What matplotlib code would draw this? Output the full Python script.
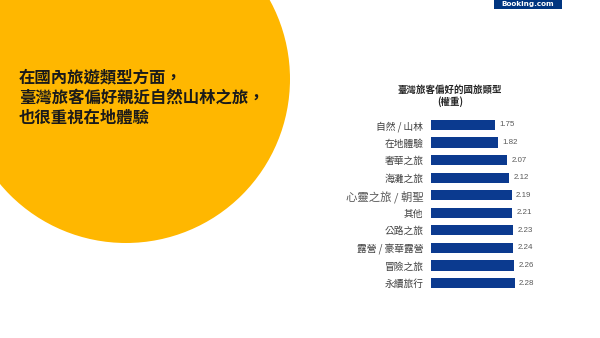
import matplotlib
matplotlib.use("Agg")
import matplotlib.pyplot as plt
from matplotlib.patches import Circle, Rectangle

plt.rcParams['font.family'] = ['Noto Sans CJK TC', 'DejaVu Sans']

categories = ["自然 / 山林", "在地體驗", "奢華之旅", "海灘之旅", "心靈之旅 / 朝聖",
              "其他", "公路之旅", "露營 / 豪華露營", "冒險之旅", "永續旅行"]
values = [1.75, 1.82, 2.07, 2.12, 2.19, 2.21, 2.23, 2.24, 2.26, 2.28]
value_labels = ["1.75", "1.82", "2.07", "2.12", "2.19", "2.21", "2.23", "2.24", "2.26", "2.28"]
chart_title = "臺灣旅客偏好的國旅類型\n(權重)"
headline = "在國內旅遊類型方面，\n臺灣旅客偏好親近自然山林之旅，\n也很重視在地體驗"
brand = "Booking.com"

W, H = 600, 338
fig = plt.figure(figsize=(W / 100, H / 100), dpi=100)
fig.patch.set_facecolor("white")

# background layer in pixel coordinates
bg = fig.add_axes([0, 0, 1, 1])
bg.set_xlim(0, W)
bg.set_ylim(H, 0)
bg.axis("off")
bg.add_patch(Circle((126, 79), 164, facecolor="#FFB700", edgecolor="none"))
bg.add_patch(Rectangle((494, 0), 68, 9, facecolor="#003580", edgecolor="none"))
bg.text(528, 4.2, brand, color="white", fontsize=5.2, fontweight="bold",
        ha="center", va="center", family=["DejaVu Sans"])
bg.text(19, 97.5, headline, fontsize=11.8, fontweight="bold", color="#1a1a1a",
        ha="left", va="center", linespacing=1.13)
bg.text(450, 96, chart_title, fontsize=6.8, fontweight="bold", color="#262626",
        ha="center", va="center", linespacing=1.25)

# bar chart axes
left_px, right_px = 431, 431 + 3 * 36.8
top_px, bot_px = 116.2, 291.8
ax = fig.add_axes([left_px / W, 1 - bot_px / H, (right_px - left_px) / W, (bot_px - top_px) / H])
ax.set_facecolor("none")
ypos = list(range(len(categories)))
ax.barh(ypos, values, height=0.58, color="#0B3A8F")
ax.set_xlim(0, 3)
ax.set_ylim(len(categories) - 0.5, -0.5)
ax.set_yticks(ypos)
ax.set_yticklabels(categories)
for lbl, cat in zip(ax.get_yticklabels(), categories):
    if cat == "心靈之旅 / 朝聖":
        lbl.set_fontsize(8.2)
        lbl.set_color("#595959")
    else:
        lbl.set_fontsize(7)
        lbl.set_color("#404040")
ax.tick_params(axis="y", length=0, pad=5.5)
ax.set_xticks([])
for s in ax.spines.values():
    s.set_visible(False)
for y, v, t in zip(ypos, values, value_labels):
    ax.annotate(t, (v, y), xytext=(3, 0), textcoords="offset points",
                ha="left", va="center", fontsize=5.7, color="#595959",
                family=["Liberation Sans"])

fig.savefig("out.png", dpi=100)
